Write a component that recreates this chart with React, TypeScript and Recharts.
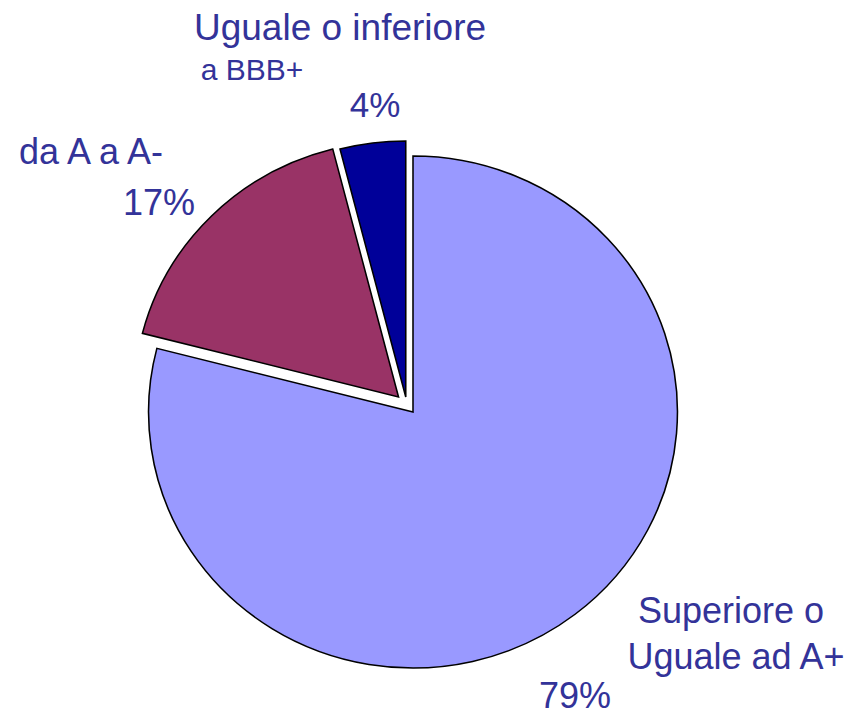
import { PieChart, Pie, Cell, Customized } from 'recharts';

const categories = ['Superiore o Uguale ad A+', 'da A a A-', 'Uguale o inferiore a BBB+'];
const shares = [79, 17, 4];
const colors = ['#9999FF', '#993366', '#000099'];
// offset of each slice from the chart centre (exploded slices)
const offsets = [
  { dx: 0, dy: 0 },
  { dx: -14, dy: -15 },
  { dx: -7, dy: -15 },
];
const labelLines = [
  [{ text: 'Superiore o', x: 731, y: 623, size: 36 }, { text: 'Uguale ad A+', x: 736, y: 669, size: 36 }, { text: '79%', x: 575, y: 708, size: 36 }],
  [{ text: 'da A a A-', x: 91, y: 164, size: 36 }, { text: '17%', x: 159, y: 215, size: 36 }],
  [{ text: 'Uguale o inferiore', x: 340, y: 40, size: 37 }, { text: 'a BBB+', x: 252, y: 80, size: 30 }, { text: '4%', x: 375, y: 117, size: 35 }],
];

const data = categories.map((name, i) => ({ name, value: shares[i] }));

const CX = 413;
const CY = 412;

function Labels() {
  return (
    <g>
      {labelLines.flat().map((l, i) => (
        <text
          key={i}
          x={l.x}
          y={l.y}
          textAnchor="middle"
          fontSize={l.size}
          fill="#333399"
          fontFamily="'Liberation Sans', Arial, sans-serif"
        >
          {l.text}
        </text>
      ))}
    </g>
  );
}

export default function App() {
  return (
    <div style={{ width: 853, height: 715, background: '#fff' }}>
      <style>{`body{margin:0} .recharts-pie{transform:scaleX(1.033);transform-origin:${CX}px ${CY}px}`}</style>
      <PieChart width={853} height={715} margin={{ top: 0, right: 0, bottom: 0, left: 0 }}>
        {offsets.map((o, si) => (
          <Pie
            key={si}
            data={data}
            dataKey="value"
            cx={CX + o.dx}
            cy={CY + o.dy}
            outerRadius={256}
            startAngle={90}
            endAngle={-270}
            isAnimationActive={false}
          >
            {data.map((d, i) => (
              <Cell
                key={d.name}
                fill={i === si ? colors[i] : 'none'}
                stroke={i === si ? '#000' : 'none'}
                strokeWidth={1.5}
              />
            ))}
          </Pie>
        ))}
        <Customized component={Labels} />
      </PieChart>
    </div>
  );
}
